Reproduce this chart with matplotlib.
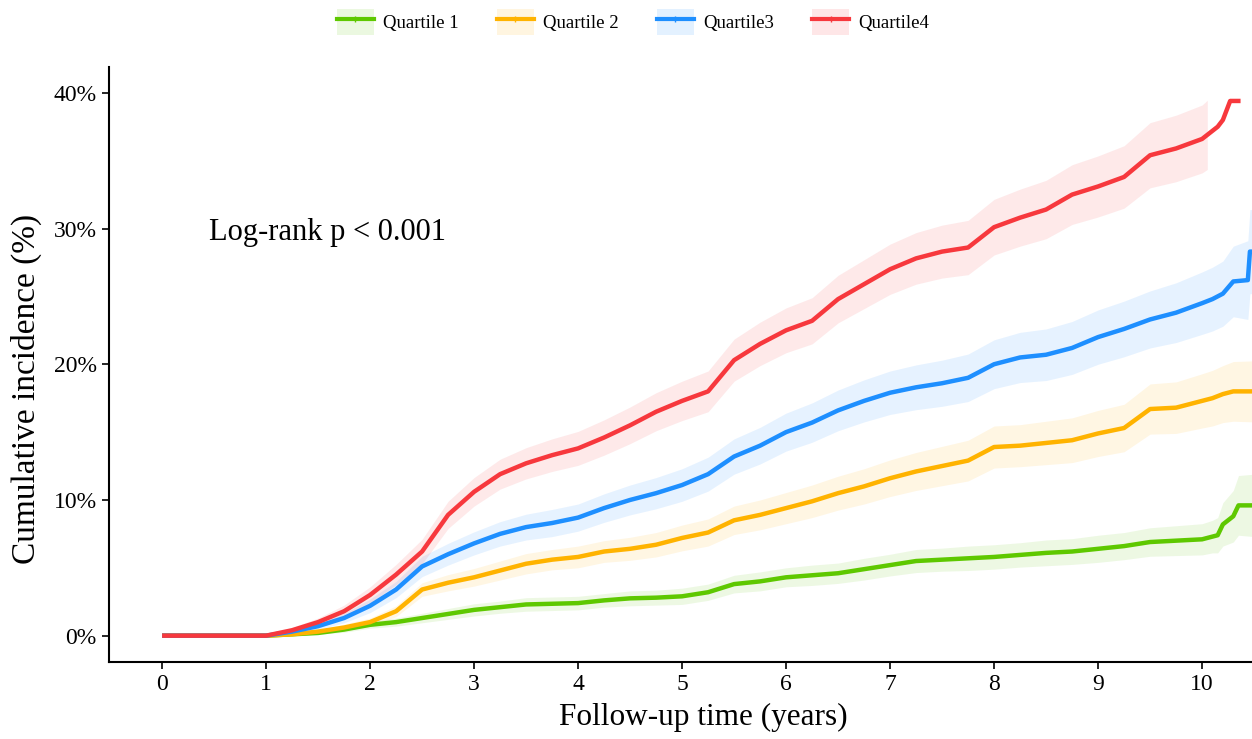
import matplotlib
matplotlib.use("Agg")
import matplotlib.pyplot as plt
from matplotlib.patches import Patch
from matplotlib.lines import Line2D
from matplotlib.ticker import FuncFormatter

plt.rcParams['font.family'] = ['Liberation Serif', 'DejaVu Serif']

# follow-up time (years) at which values were read
times = [0, 1.0, 1.25, 1.5, 1.75, 2.0, 2.25, 2.5, 2.75, 3.0, 3.25, 3.5, 3.75, 4.0,
         4.25, 4.5, 4.75, 5.0, 5.25, 5.5, 5.75, 6.0, 6.25, 6.5, 6.75, 7.0, 7.25,
         7.5, 7.75, 8.0, 8.25, 8.5, 8.75, 9.0, 9.25, 9.5, 9.75, 10.0]

# cumulative incidence (%)
q1 = [0, 0, 0.1, 0.2, 0.45, 0.8, 1.0, 1.3, 1.6, 1.9, 2.1, 2.3, 2.35, 2.4,
      2.6, 2.75, 2.8, 2.9, 3.2, 3.8, 4.0, 4.3, 4.45, 4.6, 4.9, 5.2, 5.5,
      5.6, 5.7, 5.8, 5.95, 6.1, 6.2, 6.4, 6.6, 6.9, 7.0, 7.1]
q2 = [0, 0, 0.1, 0.3, 0.6, 1.0, 1.8, 3.4, 3.9, 4.3, 4.8, 5.3, 5.6, 5.8,
      6.2, 6.4, 6.7, 7.2, 7.6, 8.5, 8.9, 9.4, 9.9, 10.5, 11.0, 11.6, 12.1,
      12.5, 12.9, 13.9, 14.0, 14.2, 14.4, 14.9, 15.3, 16.7, 16.8, 17.3]
q3 = [0, 0, 0.3, 0.7, 1.3, 2.2, 3.4, 5.1, 6.0, 6.8, 7.5, 8.0, 8.3, 8.7,
      9.4, 10.0, 10.5, 11.1, 11.9, 13.2, 14.0, 15.0, 15.7, 16.6, 17.3, 17.9, 18.3,
      18.6, 19.0, 20.0, 20.5, 20.7, 21.2, 22.0, 22.6, 23.3, 23.8, 24.5]
q4 = [0, 0, 0.4, 1.0, 1.8, 3.0, 4.5, 6.2, 8.9, 10.6, 11.9, 12.7, 13.3, 13.8,
      14.6, 15.5, 16.5, 17.3, 18.0, 20.3, 21.5, 22.5, 23.2, 24.8, 25.9, 27.0, 27.8,
      28.3, 28.6, 30.1, 30.8, 31.4, 32.5, 33.1, 33.8, 35.4, 35.9, 36.6]

# 95% CI half-widths (%) at the same times
q1_ci = [0, 0, 0.05, 0.1, 0.2, 0.25, 0.3, 0.35, 0.4, 0.45, 0.45, 0.5, 0.5, 0.5,
         0.5, 0.55, 0.55, 0.6, 0.6, 0.65, 0.7, 0.7, 0.75, 0.75, 0.8, 0.8, 0.85,
         0.85, 0.9, 0.9, 0.9, 0.95, 0.95, 1.0, 1.0, 1.05, 1.1, 1.15]
q2_ci = [0, 0, 0.1, 0.15, 0.25, 0.3, 0.4, 0.5, 0.6, 0.65, 0.7, 0.75, 0.75, 0.8,
         0.8, 0.85, 0.9, 0.95, 1.0, 1.05, 1.1, 1.15, 1.2, 1.25, 1.3, 1.35, 1.4,
         1.45, 1.5, 1.55, 1.55, 1.6, 1.65, 1.7, 1.75, 1.85, 1.9, 2.0]
q3_ci = [0, 0, 0.15, 0.25, 0.35, 0.5, 0.6, 0.75, 0.8, 0.85, 0.9, 0.95, 1.0, 1.0,
         1.05, 1.1, 1.15, 1.2, 1.25, 1.3, 1.35, 1.4, 1.45, 1.5, 1.55, 1.6, 1.65,
         1.7, 1.75, 1.8, 1.85, 1.9, 1.95, 2.0, 2.05, 2.1, 2.2, 2.3]
q4_ci = [0, 0, 0.2, 0.3, 0.45, 0.6, 0.75, 0.9, 1.0, 1.05, 1.1, 1.15, 1.2, 1.25,
         1.3, 1.35, 1.4, 1.45, 1.5, 1.55, 1.6, 1.65, 1.7, 1.75, 1.8, 1.85, 1.9,
         1.95, 2.0, 2.05, 2.1, 2.15, 2.2, 2.25, 2.3, 2.4, 2.45, 2.5]

# tail segments after 10 years (time, value, ci half-width)
tail_t = {
    'q1': [10.1, 10.15, 10.2, 10.3, 10.35, 10.5],
    'q2': [10.1, 10.2, 10.3, 10.5],
    'q3': [10.1, 10.2, 10.3, 10.44, 10.46, 10.5],
    'q4': [10.05, 10.15, 10.2, 10.27, 10.37],
}
tail_v = {
    'q1': [7.3, 7.4, 8.2, 8.8, 9.6, 9.6],
    'q2': [17.5, 17.8, 18.0, 18.0],
    'q3': [24.8, 25.2, 26.1, 26.2, 28.3, 28.3],
    'q4': [36.9, 37.5, 38.0, 39.4, 39.4],
}
tail_ci = {
    'q1': [1.2, 1.3, 1.6, 1.9, 2.2, 2.3],
    'q2': [2.05, 2.1, 2.2, 2.25],
    'q3': [2.35, 2.4, 2.6, 2.9, 3.1, 3.1],
    'q4': [2.55, 2.6, 2.6, 2.6, 2.6],
}
band_end = {'q1': 10.5, 'q2': 10.5, 'q3': 10.5, 'q4': 10.1}

labels = ['Quartile 1', 'Quartile 2', 'Quartile3', 'Quartile4']
keys = ['q1', 'q2', 'q3', 'q4']
colors = ['#5EC800', '#FFB300', '#1E8FFF', '#F7383D']
values = {'q1': q1, 'q2': q2, 'q3': q3, 'q4': q4}
cis = {'q1': q1_ci, 'q2': q2_ci, 'q3': q3_ci, 'q4': q4_ci}


def main():
    fig = plt.figure(figsize=(12.52, 7.39), dpi=100)
    ax = fig.add_axes([0.0871, 0.1042, 0.9129, 0.8051])

    for k, c in zip(keys, colors):
        t = times + tail_t[k]
        v = values[k] + tail_v[k]
        ci = cis[k] + tail_ci[k]
        lo = [max(a - b, 0) for a, b in zip(v, ci)]
        hi = [a + b for a, b in zip(v, ci)]
        bt = [x for x in t if x <= band_end[k]]
        n = len(bt)
        ax.fill_between(bt, lo[:n], hi[:n], color=c, alpha=0.11, lw=0)
        ax.plot(t, v, color=c, lw=3.2, solid_capstyle='butt', zorder=3)

    ax.text(0.45, 29.7, 'Log-rank p < 0.001', fontsize=22, va='center', ha='left')

    ax.set_xlim(-0.51, 10.48)
    ax.set_ylim(-1.94, 41.9)
    ax.set_xticks(range(0, 11))
    ax.set_yticks([0, 10, 20, 30, 40])
    ax.yaxis.set_major_formatter(FuncFormatter(lambda y, _: f'{y:.0f}%'))
    ax.tick_params(labelsize=17, length=5, width=1.2, colors='black', pad=4)
    ax.set_xlabel('Follow-up time (years)', fontsize=22.5)
    ax.set_ylabel('Cumulative incidence (%)', fontsize=24)
    ax.xaxis.set_label_coords(0.52, -0.068)
    ax.yaxis.set_label_coords(-0.059, 0.459)
    for s in ['top', 'right']:
        ax.spines[s].set_visible(False)
    for s in ['left', 'bottom']:
        ax.spines[s].set_linewidth(1.5)

    handles = []
    for c in colors:
        handles.append((Patch(facecolor=c, alpha=0.12, lw=0),
                        Line2D([], [], color=c, lw=3, marker='|', markersize=5)))
    fig.legend(handles, labels, loc='upper center', bbox_to_anchor=(0.5056, 1.01),
               ncol=4, frameon=False, fontsize=13.5, handlelength=2.0,
               handleheight=1.7, handletextpad=0.5, columnspacing=2.0)

    fig.savefig('out.png', dpi=100)
    plt.close(fig)


if __name__ == '__main__':
    main()
